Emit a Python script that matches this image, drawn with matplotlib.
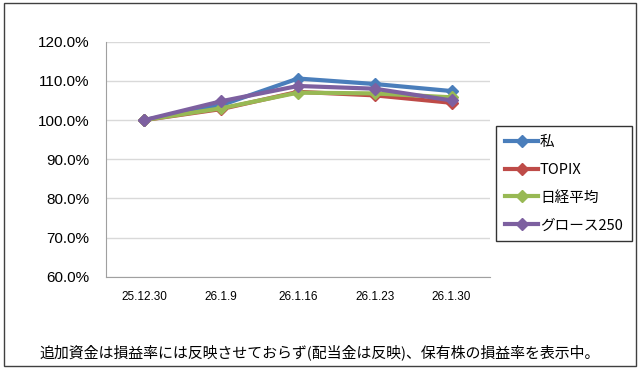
import matplotlib.pyplot as plt
from matplotlib.patches import Rectangle

plt.rcParams['font.family'] = ['Noto Sans CJK JP', 'DejaVu Sans']

dates = ['25.12.30', '26.1.9', '26.1.16', '26.1.23', '26.1.30']
names = ['私', 'TOPIX', '日経平均', 'グロース250']
watashi = [100.0, 103.8, 110.6, 109.2, 107.4]
topix = [100.0, 102.8, 107.2, 106.3, 104.4]
nikkei = [100.0, 103.0, 107.0, 106.8, 105.8]
growth = [100.0, 104.8, 108.7, 108.0, 105.0]
colors = ['#4A7EBB', '#BE4B48', '#98B954', '#7D60A0']

fig = plt.figure(figsize=(6.4, 3.69), dpi=100)
ax = fig.add_axes([0.1656, 0.25, 0.6, 0.637])

x = range(len(dates))
for vals, name, c in zip([watashi, topix, nikkei, growth], names, colors):
    ax.plot(x, vals, color=c, lw=3, marker='D', ms=6.5, label=name)

ax.set_xlim(-0.5, 4.5)
ax.set_ylim(60, 120)
ax.set_yticks(range(60, 121, 10))
ax.set_yticklabels(['%.1f%%' % v for v in range(60, 121, 10)], fontsize=11,
                   family=['Liberation Sans'])
ax.set_xticks(list(x))
ax.set_xticklabels(dates, fontsize=8.5, family=['Liberation Sans'])
ax.grid(axis='y', color='#D9D9D9', lw=1)
ax.set_axisbelow(True)
for s in ['top', 'right']:
    ax.spines[s].set_visible(False)
for s in ['left', 'bottom']:
    ax.spines[s].set_color('#A0A0A0')
ax.tick_params(axis='y', length=0, pad=12)
ax.tick_params(axis='x', length=0, pad=10)

leg = ax.legend(loc='upper left', bbox_to_anchor=(1.016, 0.641), fontsize=10.5,
                frameon=True, fancybox=False, handlelength=2.3,
                labelspacing=0.95, borderpad=0.6, handletextpad=0.1,
                borderaxespad=0)
leg.get_frame().set_edgecolor('black')
leg.get_frame().set_linewidth(1)

fig.text(0.5, 0.046, '追加資金は損益率には反映させておらず(配当金は反映)、保有株の損益率を表示中。',
         ha='center', va='center', fontsize=10.75)

fig.patches.append(Rectangle((0.006, 0.008), 0.988, 0.984, transform=fig.transFigure,
                             fill=False, edgecolor='#404040', lw=1))

fig.savefig('out.png', dpi=100)
